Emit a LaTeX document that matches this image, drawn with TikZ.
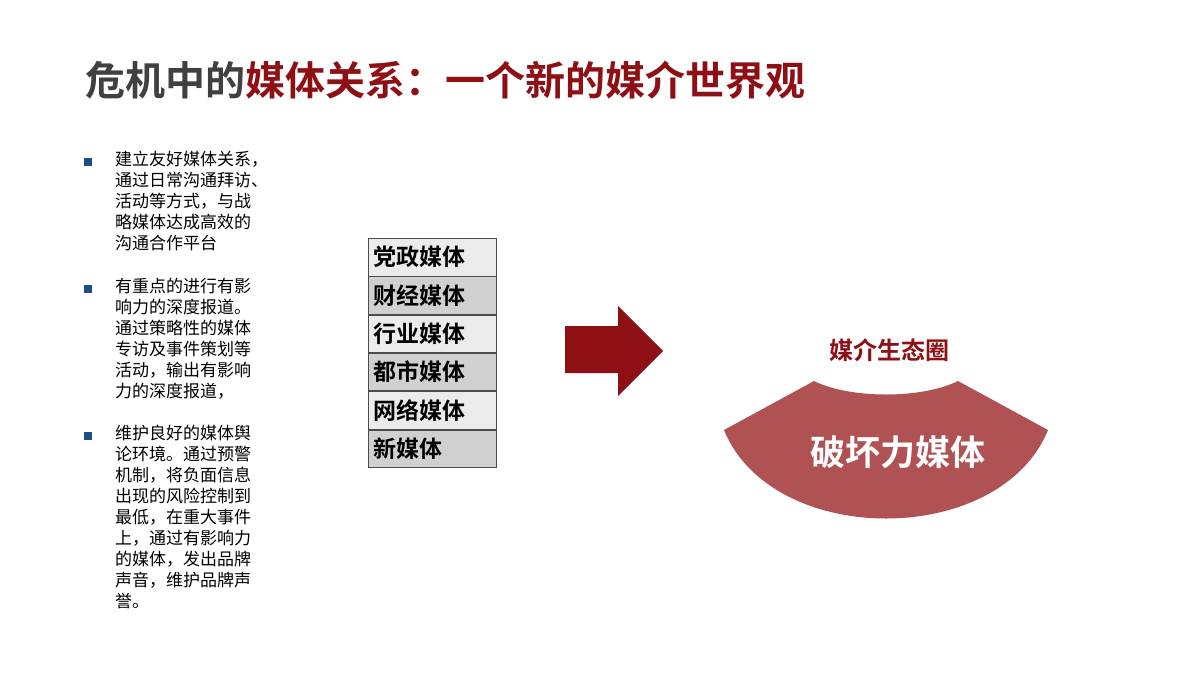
\documentclass[tikz,border=0pt]{standalone}
\usepackage{fontspec}
\newfontfamily\cjk{Noto Sans CJK SC}
\newfontfamily\cjkb{Noto Sans CJK SC Bold}
\definecolor{dred}{HTML}{8E0F14}
\definecolor{fan}{HTML}{B05254}
\definecolor{tgray}{HTML}{404040}
\definecolor{rowa}{HTML}{EBEBEB}
\definecolor{rowb}{HTML}{D0D0D0}
\definecolor{bul}{HTML}{1F4E8C}
\begin{document}
\begin{tikzpicture}[x=1pt,y=-1pt,
  body/.style={anchor=north west,inner sep=0pt,align=left,font=\cjk\fontsize{17}{21}\selectfont,text=black},
  bullet/.style={fill=bul,minimum size=8pt,inner sep=0pt},
  row/.style={draw=black!70,line width=0.8pt,minimum width=128pt,minimum height=37.5pt,anchor=north west,inner ysep=0pt,inner xsep=5pt,text width=118pt,align=left,font=\cjkb\fontsize{23}{26}\selectfont}]
\useasboundingbox (0,0) rectangle (1200,675);
\node[anchor=west,inner sep=0pt,font=\cjkb\fontsize{40}{44}\selectfont] (title) at (85,80)
  {\textcolor{tgray}{危机中的}\textcolor{dred}{媒体关系：一个新的媒介世界观}};
\node[bullet] (b1) at (88,162) {};
\node[body] (t1) at (115,151) {建立友好媒体关系，\\通过日常沟通拜访、\\活动等方式，与战\\略媒体达成高效的\\沟通合作平台};
\node[bullet] (b2) at (88,289) {};
\node[body] (t2) at (115,278) {有重点的进行有影\\响力的深度报道。\\通过策略性的媒体\\专访及事件策划等\\活动，输出有影响\\力的深度报道，};
\node[bullet] (b3) at (88,436) {};
\node[body] (t3) at (115,425) {维护良好的媒体舆\\论环境。通过预警\\机制，将负面信息\\出现的风险控制到\\最低，在重大事件\\上，通过有影响力\\的媒体，发出品牌\\声音，维护品牌声\\誉。};
\node[row,fill=rowa] (r1) at (368,238) {党政媒体};
\node[row,fill=rowb] (r2) at (r1.south west) {财经媒体};
\node[row,fill=rowa] (r3) at (r2.south west) {行业媒体};
\node[row,fill=rowb] (r4) at (r3.south west) {都市媒体};
\node[row,fill=rowa] (r5) at (r4.south west) {网络媒体};
\node[row,fill=rowb] (r6) at (r5.south west) {新媒体};
\fill[dred] (565,326) -- (618,326) -- (618,306) -- (663,351) -- (618,396) -- (618,373) -- (565,373) -- cycle;
\fill[fan] (814,381) .. controls (850,399) and (922,399) .. (958,381) -- (1048,430)
  .. controls (1000,548) and (772,548) .. (724,430) -- cycle;
\node[font=\cjkb\fontsize{24}{26}\selectfont,text=dred] (eco) at (889,350) {媒介生态圈};
\node[font=\cjkb\fontsize{35}{38}\selectfont,text=white] (fanlabel) at (898,452) {破坏力媒体};
\end{tikzpicture}
\end{document}
